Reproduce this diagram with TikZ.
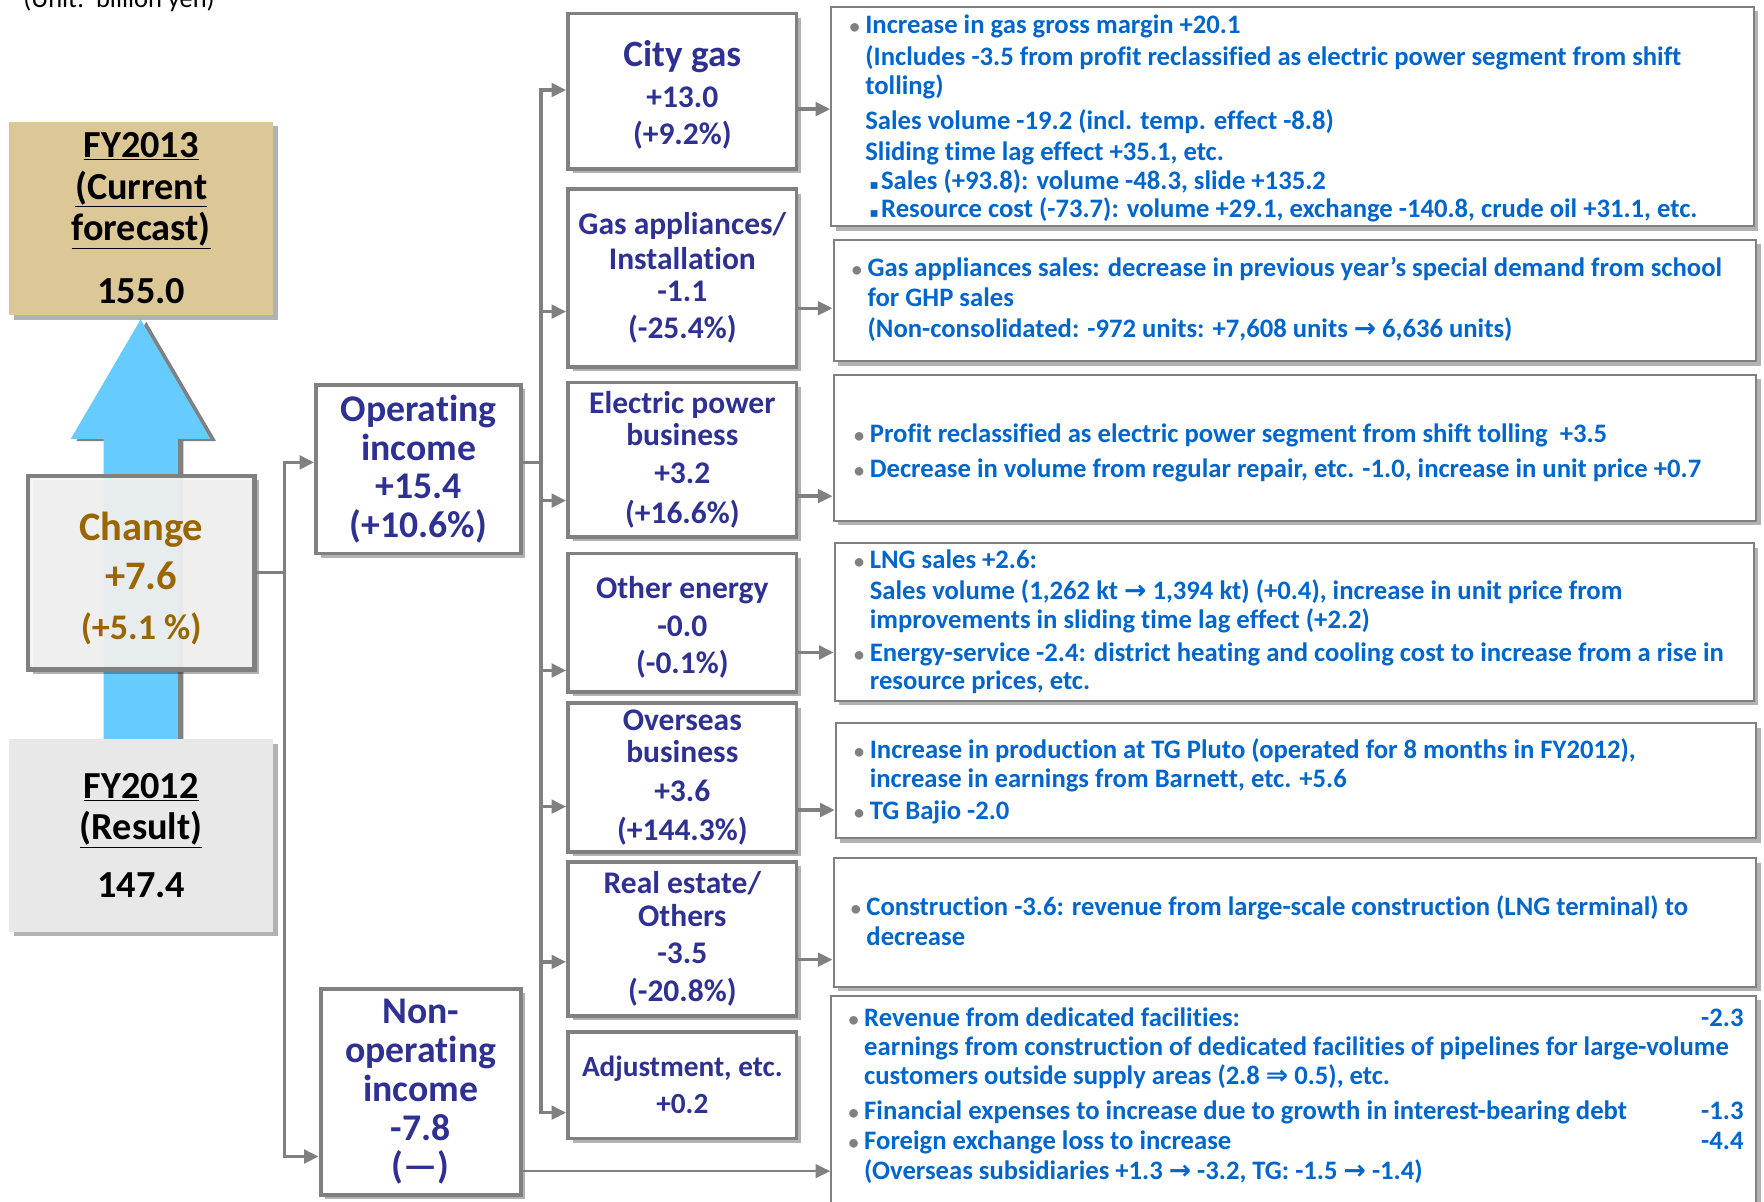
\documentclass[tikz,border=0pt]{standalone}
\usepackage{fontspec}
\setmainfont{Carlito}[Ligatures=NoCommon]
\newfontfamily\symfont{DejaVu Sans}
\usetikzlibrary{positioning,arrows.meta,shadows,calc}
\definecolor{fcst}{HTML}{DBC896}
\definecolor{rise}{HTML}{66CCFF}
\definecolor{chgtxt}{HTML}{996600}
\definecolor{segtxt}{HTML}{2E3192}
\definecolor{notetxt}{HTML}{0066CC}
\definecolor{result}{HTML}{E8E8E8}
\definecolor{wire}{HTML}{808080}
\newcommand{\bul}{\llap{\textcolor{wire}{\fontsize{18}{18}\selectfont\textbullet}\hspace{5pt}}}
\newcommand{\sqb}{\llap{{\symfont\fontsize{12}{12}\selectfont\char"25AA}\hspace{2pt}}}
\newcommand{\toarr}{{\symfont\char"2192}}
\newcommand{\Toarr}{{\symfont\char"21D2}}

\begin{document}
\begin{tikzpicture}[x=1pt, y=-1pt,
    every node/.style={font=\bfseries},
    boxshadow/.style={drop shadow={shadow xshift=4pt, shadow yshift=-4pt, fill=black, opacity=.3}},
    yearbox/.style={rectangle, inner sep=0pt, minimum width=235, align=center, text=black, font=\bfseries\fontsize{34}{37}\selectfont, boxshadow},
    segbox/.style={draw=wire, line width=3.5, fill=white, text=segtxt, align=center, inner sep=0pt, minimum width=203, font=\bfseries\fontsize{28}{29}\selectfont, boxshadow},
    notebox/.style={draw=wire, line width=1.8, fill=white, anchor=north west, inner sep=0pt, minimum width=820, boxshadow},
    note/.style={anchor=west, inner sep=0pt, text=notetxt, font=\bfseries\fontsize{23.7}{26}\selectfont, text height=18, text depth=2},
    wireline/.style={draw=wire, line width=3},
    wirearrow/.style={wireline, -{Triangle[length=13pt, width=12pt]}}]
    % page
    \fill[white] (0,0) rectangle (1568,1068);
    \useasboundingbox (0,0) rectangle (1568,1068);
    \node[anchor=base west, inner sep=0pt, font=\fontsize{23.5}{26}\selectfont] (unit) at (20.5,7) {(Unit:\ \ billion yen)};
    % rising arrow (result -> forecast)
    \fill[wire, xshift=5pt, yshift=-2pt] (125,284) -- (187,390) -- (158,390) -- (158,657) -- (92,657) -- (92,390) -- (63,390) -- cycle;
    \fill[rise] (125,284) -- (187,390) -- (158,390) -- (158,657) -- (92,657) -- (92,390) -- (63,390) -- cycle;
    % left column
    \node[yearbox, fill=fcst, minimum height=172] (fcst) at (125.5,194) {\underline{FY2013}\\\underline{(Current}\\\underline{forecast)}\\[19pt]155.0};
    \node[yearbox, fill=result, minimum height=171] (res) at (125.5,742.5) {\underline{FY2012}\\\underline{(Result)}\\[14pt]147.4};
    \node[yearbox, draw=wire, line width=4, fill=black!4, fill opacity=.92, text opacity=1, minimum width=201, minimum height=172, text=chgtxt, font=\bfseries\fontsize{36}{44}\selectfont] (chg) at (125.5,509) {\rule{0pt}{35pt}Change\\+7.6\\{\fontsize{32}{43}\selectfont(+5.1 \%)}};
    % income boxes
    \node[segbox, minimum width=182, minimum height=150, font=\bfseries\fontsize{33.5}{34.5}\selectfont] (opinc) at (372,417) {Operating\\income\\+15.4\\(+10.6\%)};
    \node[segbox, minimum width=178, minimum height=183, font=\bfseries\fontsize{33.5}{34.5}\selectfont] (nonop) at (374,970.5) {Non-\\operating\\income\\-7.8\\(—)};
    % segments
    \node[segbox, minimum height=138] (city) at (606.5,81) {\rule{0pt}{30pt}{\fontsize{33}{29}\selectfont City gas}\\[8pt]+13.0\\[4pt](+9.2\%)};
    \node[segbox, minimum height=158] (gasapp) at (606.5,247) {Gas appliances/\\[2pt]Installation\\-1.1\\[4pt](-25.4\%)};
    \node[segbox, minimum height=137] (elec) at (606.5,408.5) {Electric power\\business\\[5pt]+3.2\\[6pt](+16.6\%)};
    \node[segbox, minimum height=123] (othen) at (606.5,553.5) {\rule{0pt}{28pt}Other energy\\[5pt]-0.0\\[4pt](-0.1\%)};
    \node[segbox, minimum height=132] (ovsea) at (606.5,691) {Overseas\\business\\[5pt]+3.6\\[6pt](+144.3\%)};
    \node[segbox, minimum height=137] (restate) at (606.5,834.5) {Real estate/\\Others\\[4pt]-3.5\\[5pt](-20.8\%)};
    \node[segbox, minimum height=95, font=\bfseries\fontsize{26}{33}\selectfont] (adjust) at (606.5,964.5) {Adjustment, etc.\\+0.2};
    % detail boxes
    \node[notebox, minimum height=195] (d1) at (738,5) {};
    \node[notebox, minimum height=108] (d2) at (740,212) {};
    \node[notebox, minimum height=130] (d3) at (740,332) {};
    \node[notebox, minimum width=817, minimum height=140] (d4) at (741,482) {};
    \node[notebox, minimum width=818, minimum height=102] (d5) at (742,642) {};
    \node[notebox, minimum height=114] (d6) at (740,762) {};
    \node[notebox, minimum width=822, minimum height=200] (d7) at (738,884) {};
    % connectors: change -> income
    \coordinate (trunkA) at (253,0);
    \coordinate (trunkB) at (481,0);
    \coordinate (opIn) at ($(opinc.west)+(0,-6)$);
    \coordinate (nonIn) at ($(nonop.west)+(0,57.5)$);
    \coordinate (opOut) at ($(opinc.east)+(0,-6)$);
    \draw[wireline] (chg.east) -- (chg.east -| trunkA);
    \draw[wireline, {Triangle[length=13pt, width=12pt]}-{Triangle[length=13pt, width=12pt]}] (opIn) -- (opIn -| trunkA) -- (nonIn -| trunkA) -- (nonIn);
    % connectors: operating income -> segments
    \coordinate (cityIn) at ($(city.west)+(0,-1)$);
    \coordinate (gasIn) at ($(gasapp.west)+(0,30)$);
    \coordinate (elecIn) at ($(elec.west)+(0,36.5)$);
    \coordinate (othIn) at ($(othen.west)+(0,42.5)$);
    \coordinate (ovsIn) at ($(ovsea.west)+(0,26)$);
    \coordinate (reIn) at ($(restate.west)+(0,20.5)$);
    \coordinate (adjIn) at ($(adjust.west)+(0,24.5)$);
    \draw[wireline] (opOut) -- (opOut -| trunkB);
    \draw[wireline, {Triangle[length=13pt, width=12pt]}-{Triangle[length=13pt, width=12pt]}] (cityIn) -- (cityIn -| trunkB) -- (adjIn -| trunkB) -- (adjIn);
    \draw[wirearrow] (gasIn -| trunkB) -- (gasIn);
    \draw[wirearrow] (elecIn -| trunkB) -- (elecIn);
    \draw[wirearrow] (othIn -| trunkB) -- (othIn);
    \draw[wirearrow] (ovsIn -| trunkB) -- (ovsIn);
    \draw[wirearrow] (reIn -| trunkB) -- (reIn);
    % connectors: segments -> details
    \coordinate (cityOut) at ($(city.east)+(0,16)$);
    \coordinate (gasOut) at ($(gasapp.east)+(0,27)$);
    \coordinate (elecOut) at ($(elec.east)+(0,32.5)$);
    \coordinate (othOut) at ($(othen.east)+(0,26.5)$);
    \coordinate (ovsOut) at ($(ovsea.east)+(0,29)$);
    \coordinate (reOut) at ($(restate.east)+(0,18.5)$);
    \coordinate (nonOut) at ($(nonop.east)+(0,70.5)$);
    \draw[wirearrow] (cityOut) -- (cityOut -| d1.west);
    \draw[wirearrow] (gasOut) -- (gasOut -| d2.west);
    \draw[wirearrow] (elecOut) -- (elecOut -| d3.west);
    \draw[wirearrow] (othOut) -- (othOut -| d4.west);
    \draw[wirearrow] (ovsOut) -- (ovsOut -| d5.west);
    \draw[wirearrow] (reOut) -- (reOut -| d6.west);
    \draw[wirearrow, line width=2] (nonOut) -- (nonOut -| d7.west);
    % city gas notes
    \node[note] (n1a) at (769,22) {\bul Increase in gas gross margin +20.1};
    \node[note] (n1b) at (769,50) {(Includes -3.5 from profit reclassified as electric power segment from shift};
    \node[note] (n1c) at (769,76) {tolling)};
    \node[note] (n1d) at (769,107) {Sales volume -19.2 (incl. temp. effect -8.8)};
    \node[note] (n1e) at (769,135) {Sliding time lag effect +35.1, etc.};
    \node[note] (n1f) at (783,160) {\sqb Sales (+93.8): volume -48.3, slide +135.2};
    \node[note] (n1g) at (783,185) {\sqb Resource cost (-73.7): volume +29.1, exchange -140.8, crude oil +31.1, etc.};
    % gas appliances notes
    \node[note] (n2a) at (771,238) {\bul Gas appliances sales: decrease in previous year’s special demand from school};
    \node[note] (n2b) at (771,264) {for GHP sales};
    \node[note] (n2c) at (771,292) {(Non-consolidated: -972 units: +7,608 units \toarr{} 6,636 units)};
    % electric power notes
    \node[note] (n3a) at (773,385) {\bul Profit reclassified as electric power segment from shift tolling\ \ +3.5};
    \node[note] (n3b) at (773,416) {\bul Decrease in volume from regular repair, etc. -1.0, increase in unit price +0.7};
    % other energy notes
    \node[note] (n4a) at (773,497) {\bul LNG sales +2.6:};
    \node[note] (n4b) at (773,525) {Sales volume (1,262 kt \toarr{} 1,394 kt) (+0.4), increase in unit price from};
    \node[note] (n4c) at (773,551) {improvements in sliding time lag effect (+2.2)};
    \node[note] (n4d) at (773,580) {\bul Energy-service -2.4: district heating and cooling cost to increase from a rise in};
    \node[note] (n4e) at (773,605) {resource prices, etc.};
    % overseas notes
    \node[note] (n5a) at (773,666) {\bul Increase in production at TG Pluto (operated for 8 months in FY2012),};
    \node[note] (n5b) at (773,692) {increase in earnings from Barnett, etc. +5.6};
    \node[note] (n5c) at (773,720) {\bul TG Bajio -2.0};
    % real estate notes
    \node[note] (n6a) at (770,806) {\bul Construction -3.6: revenue from large-scale construction (LNG terminal) to};
    \node[note] (n6b) at (770,832) {decrease};
    % non-operating notes
    \node[note] (n7a) at (768,904) {\bul Revenue from dedicated facilities:};
    \node[note, anchor=east] (v7a) at (1550,904) {-2.3};
    \node[note] (n7b) at (768,930) {earnings from construction of dedicated facilities of pipelines for large-volume};
    \node[note] (n7c) at (768,956) {customers outside supply areas (2.8 \Toarr{} 0.5), etc.};
    \node[note] (n7d) at (768,987) {\bul Financial expenses to increase due to growth in interest-bearing debt};
    \node[note, anchor=east] (v7d) at (1550,987) {-1.3};
    \node[note] (n7e) at (768,1014) {\bul Foreign exchange loss to increase};
    \node[note, anchor=east] (v7e) at (1550,1014) {-4.4};
    \node[note] (n7f) at (768,1040) {(Overseas subsidiaries +1.3 \toarr{} -3.2, TG: -1.5 \toarr{} -1.4)};
\end{tikzpicture}
\end{document}
